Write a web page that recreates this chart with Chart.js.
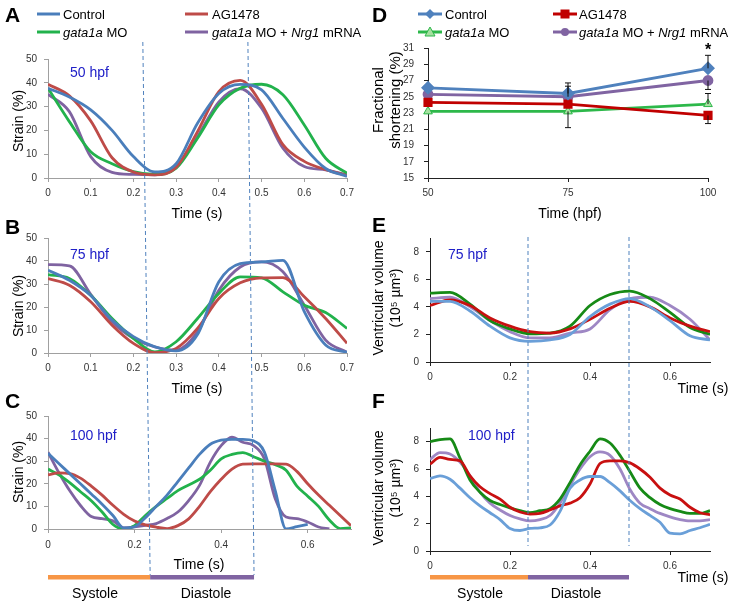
<!DOCTYPE html>
<html>
<head>
<meta charset="utf-8">
<script src="https://cdn.jsdelivr.net/npm/chart.js@4.4.1/dist/chart.umd.min.js"></script>
<style>
body { margin: 0; background: #fff; }
#fig { position: relative; width: 730px; height: 604px; overflow: hidden; font-family: "Liberation Sans", Arial, sans-serif; color: #000; }
canvas { position: absolute; }
#ov { position: absolute; left: 0; top: 0; }
.t { position: absolute; white-space: nowrap; font-size: 14px; line-height: 1; transform: translateY(-50%); }
.c { transform: translate(-50%, -50%); }
.rot { transform: translate(-50%, -50%) rotate(-90deg); text-align: center; line-height: 1.2; }
.lt { font-weight: bold; font-size: 21px; }
.hpf { color: #2020c8; }
.lg { font-size: 13px; }
</style>
</head>
<body>
<div id="fig">
  <canvas id="cA"></canvas>
  <canvas id="cB"></canvas>
  <canvas id="cC"></canvas>
  <canvas id="cD"></canvas>
  <canvas id="cE"></canvas>
  <canvas id="cF"></canvas>
  <svg id="ov" width="730" height="604"></svg>

  <div class="t lt" style="left:5px;top:14px">A</div>
  <div class="t lt" style="left:5px;top:226px">B</div>
  <div class="t lt" style="left:5px;top:400px">C</div>
  <div class="t lt" style="left:372px;top:14px">D</div>
  <div class="t lt" style="left:372px;top:224px">E</div>
  <div class="t lt" style="left:372px;top:400px">F</div>

  <div class="t lg" style="left:63px;top:14px">Control</div>
  <div class="t lg" style="left:212px;top:14px">AG1478</div>
  <div class="t lg" style="left:63px;top:32px"><i>gata1a</i> MO</div>
  <div class="t lg" style="left:212px;top:32px"><i>gata1a</i> MO + <i>Nrg1</i> mRNA</div>
  <div class="t lg" style="left:445px;top:14px">Control</div>
  <div class="t lg" style="left:579px;top:14px">AG1478</div>
  <div class="t lg" style="left:445px;top:32px"><i>gata1a</i> MO</div>
  <div class="t lg" style="left:579px;top:32px"><i>gata1a</i> MO + <i>Nrg1</i> mRNA</div>

  <div class="t hpf" style="left:70px;top:72px">50 hpf</div>
  <div class="t hpf" style="left:70px;top:254px">75 hpf</div>
  <div class="t hpf" style="left:70px;top:435px">100 hpf</div>
  <div class="t hpf" style="left:448px;top:254px">75 hpf</div>
  <div class="t hpf" style="left:468px;top:435px">100 hpf</div>

  <div class="t rot" style="left:18px;top:121px">Strain (%)</div>
  <div class="t rot" style="left:18px;top:306px">Strain (%)</div>
  <div class="t rot" style="left:18px;top:472px">Strain (%)</div>
  <div class="t c" style="left:197px;top:213px">Time (s)</div>
  <div class="t c" style="left:197px;top:388px">Time (s)</div>
  <div class="t c" style="left:199px;top:564px">Time (s)</div>

  <div class="t rot" style="left:386px;top:100px;font-size:15px;line-height:1.15">Fractional<br>shortening (%)</div>
  <div class="t c" style="left:570px;top:213px">Time (hpf)</div>
  <div class="t c" style="left:708px;top:50px;font-size:16px;font-weight:bold">*</div>

  <div class="t rot" style="left:387px;top:298px">Ventricular volume<br>(10⁵ µm³)</div>
  <div class="t rot" style="left:387px;top:488px">Ventricular volume<br>(10⁵ µm³)</div>
  <div class="t c" style="left:703px;top:388px">Time (s)</div>
  <div class="t c" style="left:703px;top:577px">Time (s)</div>

  <div class="t c" style="left:95px;top:593px">Systole</div>
  <div class="t c" style="left:206px;top:593px">Diastole</div>
  <div class="t c" style="left:480px;top:593px">Systole</div>
  <div class="t c" style="left:576px;top:593px">Diastole</div>
</div>

<script>
// ---- data ----
const timesA = [0, 0.05, 0.1, 0.15, 0.2, 0.25, 0.3, 0.35, 0.4, 0.45, 0.5, 0.55, 0.6, 0.65, 0.7];
const aControl = [37.7, 34, 28.6, 20, 9, 2.6, 6, 23, 35.5, 39.3, 37, 25, 13, 4, 0.7];
const aAg = [39.4, 34.5, 24, 8.5, 2.5, 1.3, 4.5, 19.5, 36.3, 41, 31, 14, 7, 3.5, 1];
const aGata = [37.7, 23.7, 11, 6, 2.7, 1.5, 4.1, 16.7, 30.7, 37.7, 39.4, 35, 22.3, 8.3, 2];
const aRescue = [35.2, 27.9, 9, 2.4, 1.5, 1.3, 4.8, 17.4, 32, 37.5, 29.3, 12.5, 4.8, 3.4, 1.3];

const timesB = [0, 0.05, 0.1, 0.15, 0.2, 0.25, 0.3, 0.35, 0.4, 0.45, 0.5, 0.55, 0.6, 0.65, 0.7];
const bControl = [36, 31.6, 25, 14.3, 7.1, 2.7, 0.9, 8, 31, 38.9, 39.6, 40.3, 18, 3.5, 0.3];
const bAg = [32.4, 29.5, 22.3, 12.1, 4.2, 0.2, 2, 10.7, 23.7, 30.5, 32.7, 32.8, 24.5, 15, 4.2];
const bGata = [34.1, 32.4, 25.1, 15, 6.4, 0.5, 4.9, 15, 25.9, 33.1, 32.7, 26.6, 20.8, 17.6, 10.7];
const bRescue = [38.4, 37.9, 25.5, 13.6, 6.4, 2.7, 1.3, 9.2, 27.3, 37.4, 39.6, 35.3, 20.8, 5.6, 0.3];

const timesC = [0, 0.025, 0.05, 0.075, 0.1, 0.125, 0.15, 0.175, 0.2, 0.225, 0.25, 0.275, 0.3, 0.325,
  0.35, 0.375, 0.4, 0.425, 0.45, 0.475, 0.5, 0.525, 0.55, 0.575, 0.6, 0.625, 0.65, 0.675, 0.7];
const cControl = [33.5, 29, 24.5, 20, 15.5, 11, 6, 0.5, 1, 5, 10, 15, 21, 27, 33, 37.5, 39.3, 39.7, 39.7,
  39, 34, 17, 0, 1, 2, null, null, null, null];
const cAg = [24, 24.8, 24.5, 22.5, 19, 15, 10.5, 6.5, 3.5, 1.8, 0.8, 0.2, 1.5, 4.5, 10, 16.5, 22, 26.5,
  28.7, 28.8, 28.8, 28.8, 28.7, 25.5, 20, 15, 10.5, 6, 1.5];
const cGata = [26.5, 24, 20.5, 16.5, 12.5, 7.5, 2, 0, 1.5, 6, 10, 13.5, 17, 19.5, 22, 26, 31, 33, 33.8,
  32, 30, 28.5, 26, 19, 14.5, 10, 4, 0.2, 0.5];
const cRescue = [34, 25, 17, 10.4, 5.5, 4.6, 3.6, 0.5, 0.9, 1.6, 2.4, 4.6, 7.5, 12.6, 19.3, 29.6, 36.9,
  40.6, 38.4, 36.9, 31, 13.4, 5.3, 4.6, 3.1, 0.9, 0, null, null];

const dTimes = ['50', '75', '100'];
const dControl = [26.1, 25.4, 28.5];
const dAg = [24.3, 24.1, 22.7];
const dGata = [23.2, 23.2, 24.1];
const dRescue = [25.3, 25.0, 27.0];
const dControlUp = [0, 1.3, 1.6];
const dAgDown = [0, 0, 1.0];
const dGataUp = [0, 0, 1.3];
const dGataDown = [0, 2.0, 0];
const dRescueUp = [0, 1.3, 0];
const dRescueDown = [0, 0, 1.1];

const timesE = [0, 0.05, 0.1, 0.15, 0.2, 0.25, 0.3, 0.35, 0.4, 0.45, 0.5, 0.55, 0.6, 0.65, 0.7];
const eControl = [4.4, 4.4, 3.7, 2.6, 1.75, 1.5, 1.6, 2.0, 3.3, 4.2, 4.6, 4.0, 3.0, 1.9, 1.6];
const eAg = [4.1, 4.5, 4.1, 3.2, 2.6, 2.2, 2.1, 2.4, 3.1, 3.9, 4.4, 4.0, 3.2, 2.6, 2.2];
const eGata = [5.0, 5.05, 4.2, 3.0, 2.4, 2.05, 2.1, 2.6, 4.1, 4.9, 5.15, 4.6, 3.6, 2.5, 2.0];
const eRescue = [4.6, 4.7, 4.0, 3.0, 2.2, 1.75, 1.75, 2.1, 2.4, 3.8, 4.6, 4.7, 4.1, 3.1, 1.6];

const timesF = [0, 0.025, 0.05, 0.075, 0.1, 0.125, 0.15, 0.175, 0.2, 0.225, 0.25, 0.275, 0.3, 0.325,
  0.35, 0.375, 0.4, 0.425, 0.45, 0.475, 0.5, 0.525, 0.55, 0.575, 0.6, 0.625, 0.65, 0.675, 0.7];
const fControl = [5.3, 5.5, 5.25, 4.6, 3.9, 3.3, 2.8, 2.3, 1.65, 1.5, 1.65, 1.7, 1.9, 2.9, 4.6, 5.2, 5.45,
  5.45, 5.0, 4.4, 3.7, 3.1, 2.6, 2.1, 1.3, 1.25, 1.5, 1.7, 1.95];
const fAg = [6.35, 6.85, 6.7, 6.6, 5.5, 4.7, 4.2, 3.8, 3.2, 2.85, 2.7, 2.75, 3.0, 3.3, 3.5, 3.9, 4.9, 6.4,
  6.6, 6.6, 6.45, 6.0, 5.4, 4.6, 4.1, 3.8, 3.2, 2.8, 2.65];
const fGata = [8.0, 8.15, 8.2, 6.8, 5.2, 4.3, 3.7, 3.4, 3.15, 2.95, 2.8, 2.95, 3.1, 3.8, 5.0, 6.3, 7.3, 8.2,
  7.9, 7.0, 5.8, 4.6, 3.9, 3.4, 3.1, 2.9, 2.75, 2.75, 2.95];
const fRescue = [6.7, 7.2, 7.1, 6.5, 5.5, 4.3, 3.5, 3.0, 2.6, 2.35, 2.2, 2.3, 2.6, 3.5, 4.8, 6.0, 6.9, 7.25,
  7.0, 6.0, 4.5, 3.5, 3.1, 2.75, 2.5, 2.3, 2.2, 2.2, 2.3];

// phase boundaries (s): left column top (panel A) / bottom (panel C), right column
const phaseTopLeft = [0.222, 0.468];
const phaseBottomLeft = [0.236, 0.476];
const phaseRight = [0.245, 0.4975];

// ---- layout ----
const FONT = '"Liberation Sans", Arial, sans-serif';
Chart.defaults.font.family = FONT;
const YW = 34, XH = 22, PT = 8, PR = 14;

const leftColors = ['#4A7EBB', '#BE4B48', '#22B24C', '#7F63A1'];
const rightColors = ['#6A9FD8', '#C81010', '#168A16', '#9E87C4'];

function placeCanvas(id, plot) {
  const cv = document.getElementById(id);
  const w = plot.r - plot.l + YW + PR;
  const h = plot.b - plot.t + PT + XH;
  cv.width = w; cv.height = h;
  cv.style.width = w + 'px'; cv.style.height = h + 'px';
  cv.style.left = (plot.l - YW) + 'px';
  cv.style.top = (plot.t - PT) + 'px';
  return cv;
}

function curve(label, times, vals, color) {
  return {
    label, borderColor: color, backgroundColor: color, borderWidth: 2.8,
    data: times.map((t, i) => ({ x: t, y: vals[i] })),
    pointRadius: 0, cubicInterpolationMode: 'monotone', fill: false
  };
}

function xAxis(step, bounds, axisColor, pad) {
  return {
    type: 'linear', min: 0, max: 0.7,
    border: { color: axisColor, width: 1 },
    grid: { drawOnChartArea: false, tickLength: 4, color: axisColor },
    ticks: {
      stepSize: step, includeBounds: bounds, autoSkip: false, maxRotation: 0, padding: pad,
      color: '#333', font: { size: 10 }, callback: v => String(+v.toFixed(1))
    },
    afterFit: s => { s.height = XH; s.paddingLeft = 0; s.paddingRight = 0; }
  };
}

function yAxis(max, step, axisColor, pad) {
  return {
    min: 0, max,
    border: { color: axisColor, width: 1 },
    grid: { drawOnChartArea: false, tickLength: 4, color: axisColor },
    ticks: { stepSize: step, includeBounds: false, padding: pad, color: '#333', font: { size: 10 } },
    afterFit: s => { s.width = YW; s.paddingTop = 0; s.paddingBottom = 0; }
  };
}

function curveChart(id, plot, times, series, colors, x, y) {
  const names = ['Control', 'AG1478', 'gata1a MO', 'gata1a MO + Nrg1 mRNA'];
  return new Chart(placeCanvas(id, plot), {
    type: 'line',
    data: { datasets: series.map((s, i) => curve(names[i], times, s, colors[i])) },
    options: {
      responsive: false, animation: false,
      layout: { padding: { top: PT, right: PR, left: 0, bottom: 0 } },
      plugins: { legend: { display: false }, tooltip: { enabled: false } },
      scales: { x, y }
    }
  });
}

const grayAxis = '#A0A0A0';
const chA = curveChart('cA', { l: 48, r: 347, t: 59, b: 178 }, timesA,
  [aControl, aAg, aGata, aRescue], leftColors, xAxis(0.1, true, grayAxis, 5), yAxis(50, 10, grayAxis, 7));
const chB = curveChart('cB', { l: 48, r: 347, t: 238, b: 353 }, timesB,
  [bControl, bAg, bGata, bRescue], leftColors, xAxis(0.1, true, grayAxis, 5), yAxis(50, 10, grayAxis, 7));
const chC = curveChart('cC', { l: 48, r: 351, t: 416, b: 529 }, timesC,
  [cControl, cAg, cGata, cRescue], leftColors, xAxis(0.2, false, grayAxis, 6), yAxis(50, 10, grayAxis, 7));
const chE = curveChart('cE', { l: 430, r: 710, t: 238, b: 362 }, timesE,
  [eControl, eAg, eGata, eRescue], rightColors, xAxis(0.2, false, '#222', 5), yAxis(9, 2, '#222', 7));
const chF = curveChart('cF', { l: 430, r: 710, t: 428, b: 551 }, timesF,
  [fControl, fAg, fGata, fRescue], rightColors, xAxis(0.2, false, '#222', 5), yAxis(9, 2, '#222', 7));

// error bars for panel D
const errorBars = {
  id: 'errorBars',
  afterDatasetsDraw(chart) {
    const { ctx, scales: { x, y } } = chart;
    ctx.save();
    ctx.strokeStyle = '#111';
    ctx.lineWidth = 1;
    chart.data.datasets.forEach(ds => {
      ds.data.forEach((v, i) => {
        const px = x.getPixelForValue(i);
        [[ds.errUp, 1], [ds.errDown, -1]].forEach(([arr, sgn]) => {
          if (!arr || !arr[i]) return;
          const y0 = y.getPixelForValue(v);
          const y1 = y.getPixelForValue(v + sgn * arr[i]);
          ctx.beginPath();
          ctx.moveTo(px, y0); ctx.lineTo(px, y1);
          ctx.moveTo(px - 3, y1); ctx.lineTo(px + 3, y1);
          ctx.stroke();
        });
      });
    });
    ctx.restore();
  }
};

const chD = new Chart(placeCanvas('cD', { l: 428, r: 708, t: 48, b: 178 }), {
  type: 'line',
  data: {
    labels: dTimes,
    datasets: [
      { label: 'Control', data: dControl, errUp: dControlUp, borderColor: '#4F81BD', backgroundColor: '#4F81BD',
        pointStyle: 'rectRot', pointRadius: 5, borderWidth: 2.8 },
      { label: 'AG1478', data: dAg, errDown: dAgDown, borderColor: '#C00000', backgroundColor: '#C00000',
        pointStyle: 'rect', pointRadius: 4.5, borderWidth: 2.8 },
      { label: 'gata1a MO', data: dGata, errUp: dGataUp, errDown: dGataDown, borderColor: '#2DB84A',
        backgroundColor: '#A6E0A0', pointBorderColor: '#2DB84A', pointBorderWidth: 1,
        pointStyle: 'triangle', pointRadius: 5, borderWidth: 2.8 },
      { label: 'gata1a MO + Nrg1 mRNA', data: dRescue, errUp: dRescueUp, errDown: dRescueDown,
        borderColor: '#8064A2', backgroundColor: '#8064A2', pointStyle: 'circle', pointRadius: 4, borderWidth: 2.8 }
    ]
  },
  options: {
    responsive: false, animation: false,
    layout: { padding: { top: PT, right: PR, left: 0, bottom: 0 } },
    plugins: { legend: { display: false }, tooltip: { enabled: false } },
    scales: {
      x: {
        type: 'category', offset: false,
        border: { color: '#222', width: 1 },
        grid: { drawOnChartArea: false, tickLength: 4, color: '#222' },
        ticks: { padding: 5, color: '#333', font: { size: 10 } },
        afterFit: s => { s.height = XH; s.paddingLeft = 0; s.paddingRight = 0; }
      },
      y: {
        min: 15, max: 31,
        border: { color: '#222', width: 1 },
        grid: { drawOnChartArea: false, tickLength: 4, color: '#222' },
        ticks: { stepSize: 2, padding: 10, color: '#333', font: { size: 10 } },
        afterFit: s => { s.width = YW; s.paddingTop = 0; s.paddingBottom = 0; }
      }
    }
  },
  plugins: [errorBars]
});

// ---- overlay: phase lines, phase bars, legend samples ----
const ov = document.getElementById('ov');
function add(tag, attrs) {
  const el = document.createElementNS('http://www.w3.org/2000/svg', tag);
  for (const k in attrs) el.setAttribute(k, attrs[k]);
  ov.appendChild(el);
  return el;
}
function pageX(chart, v) { return chart.canvas.offsetLeft + chart.scales.x.getPixelForValue(v); }

const dash = { stroke: '#4F81BD', 'stroke-width': 1, 'stroke-dasharray': '4 3' };
phaseTopLeft.forEach((v, i) => add('line', Object.assign({
  x1: pageX(chA, v), y1: 42, x2: pageX(chC, phaseBottomLeft[i]), y2: 575 }, dash)));
phaseRight.forEach(v => add('line', Object.assign({
  x1: pageX(chE, v), y1: 237, x2: pageX(chF, v), y2: 546 }, dash)));

function phaseBar(chart, ends) {
  const x0 = pageX(chart, 0), x1 = pageX(chart, ends[0]), x2 = pageX(chart, ends[1]);
  add('rect', { x: x0, y: 575, width: x1 - x0, height: 4.5, fill: '#F79646' });
  add('rect', { x: x1, y: 575, width: x2 - x1, height: 4.5, fill: '#8064A2' });
}
phaseBar(chC, phaseBottomLeft);
phaseBar(chF, phaseRight);

// legend samples
[[37, 14, 0], [185, 14, 1], [37, 32, 2], [185, 32, 3]].forEach(([x, y, k]) =>
  add('line', { x1: x, y1: y, x2: x + 23, y2: y, stroke: leftColors[k], 'stroke-width': 3 }));
const dCols = ['#4F81BD', '#C00000', '#2DB84A', '#8064A2'];
[[418, 14, 0], [553, 14, 1], [418, 32, 2], [553, 32, 3]].forEach(([x, y, k]) => {
  add('line', { x1: x, y1: y, x2: x + 24, y2: y, stroke: dCols[k], 'stroke-width': 3 });
  const cx = x + 12;
  if (k === 0) add('polygon', { points: `${cx},${y - 5} ${cx + 5},${y} ${cx},${y + 5} ${cx - 5},${y}`, fill: dCols[0] });
  if (k === 1) add('rect', { x: cx - 4.5, y: y - 4.5, width: 9, height: 9, fill: dCols[1] });
  if (k === 2) add('polygon', { points: `${cx},${y - 5} ${cx + 5},${y + 4} ${cx - 5},${y + 4}`, fill: '#A6E0A0', stroke: dCols[2] });
  if (k === 3) add('circle', { cx, cy: y, r: 4, fill: dCols[3] });
});
</script>
</body>
</html>
